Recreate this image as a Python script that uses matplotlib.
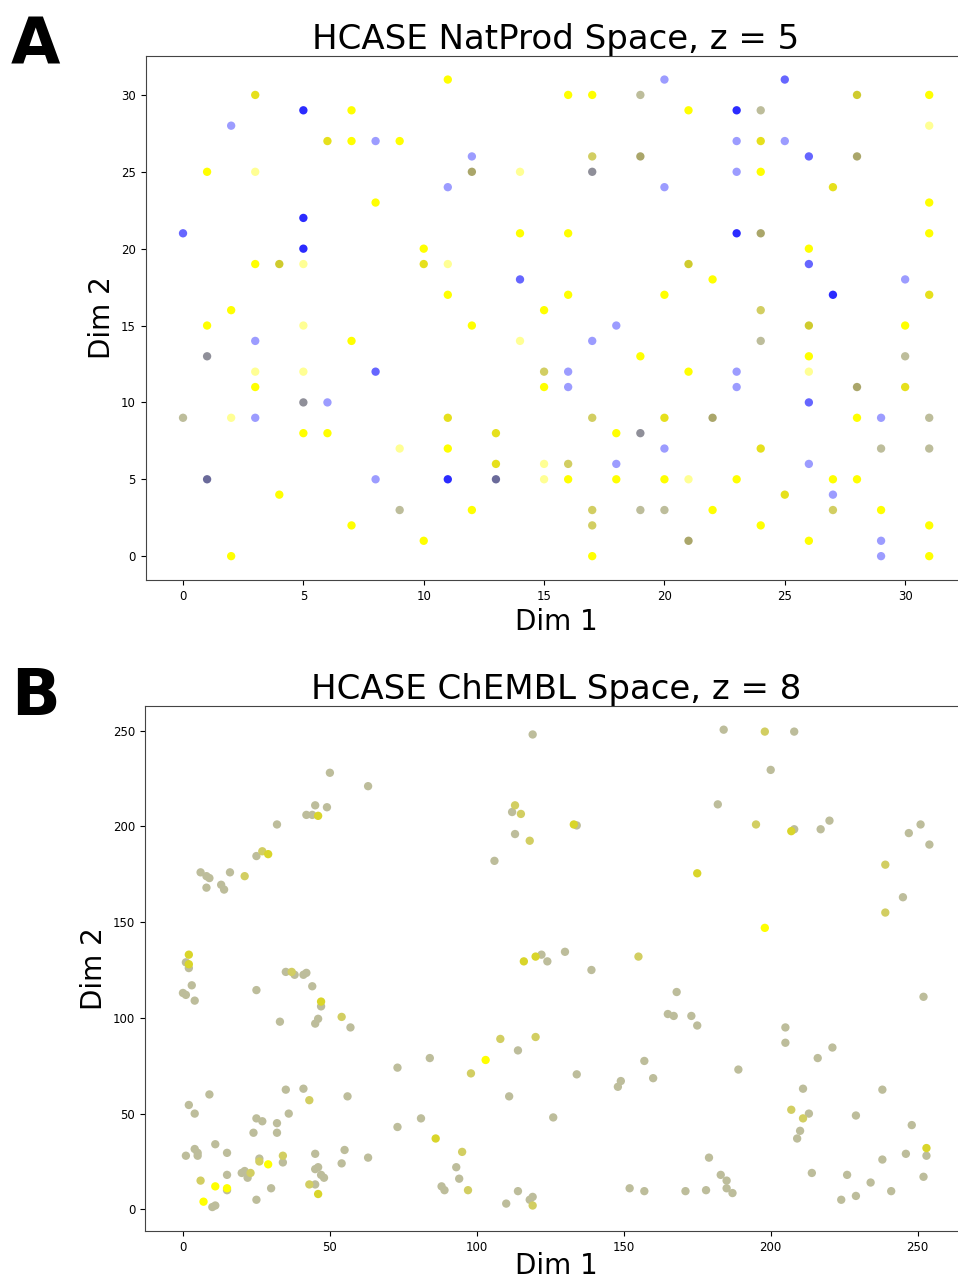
import matplotlib
matplotlib.use("Agg")
import matplotlib.pyplot as plt

# Panel A: HCASE NatProd space (x, y, colour code)
a_x = [11, 3, 5, 7, 2, 6, 7, 8, 9, 12, 1, 3, 12, 14, 11, 8, 5, 0, 14, 5, 10, 3, 4, 5, 10, 11, 14, 11, 2, 15,
       20, 25, 16, 17, 19, 28, 31, 21, 23, 24, 31, 23, 24, 25, 17, 19, 26, 28, 17, 23, 24, 20, 27, 31, 16, 23, 24, 31, 26, 21,
       26, 22, 30, 16, 20, 27, 31, 24,
       1, 5, 12, 3, 7, 14, 1, 3, 5, 8, 15, 3, 15, 5, 6, 0, 2, 3, 11, 5, 6, 13, 9, 11, 13, 15, 1, 8, 11, 13, 15, 4,
       9, 12, 7, 10, 2,
       18, 26, 30, 17, 24, 19, 26, 30, 16, 21, 23, 26, 16, 23, 28, 30, 26, 17, 20, 22, 28, 29, 31, 18, 19, 20, 24, 29,
       31, 16, 18, 26, 16, 18, 20, 21, 23, 27, 28, 25, 27, 17, 19, 20, 22, 27, 29, 17, 24, 31, 21, 26, 29, 29, 17, 31]
a_y = [31, 30, 29, 29, 28, 27, 27, 27, 27, 26, 25, 25, 25, 25, 24, 23, 22, 21, 21, 20, 20, 19, 19, 19, 19, 19, 18, 17, 16, 16,
       31, 31, 30, 30, 30, 30, 30, 29, 29, 29, 28, 27, 27, 27, 26, 26, 26, 26, 25, 25, 25, 24, 24, 23, 21, 21, 21, 21, 20, 19,
       19, 18, 18, 17, 17, 17, 17, 16,
       15, 15, 15, 14, 14, 14, 13, 12, 12, 12, 12, 11, 11, 10, 10, 9, 9, 9, 9, 8, 8, 8, 7, 7, 6, 6, 5, 5, 5, 5, 5, 4,
       3, 3, 2, 1, 0,
       15, 15, 15, 14, 14, 13, 13, 13, 12, 12, 12, 12, 11, 11, 11, 11, 10, 9, 9, 9, 9, 9, 9, 8, 8, 7, 7, 7,
       7, 6, 6, 6, 5, 5, 5, 5, 5, 5, 5, 4, 4, 3, 3, 3, 3, 3, 3, 2, 2, 2, 1, 1, 1, 0, 0, 0]
a_c = ("YDBYbDYbYbYyOybYBmYBYYKyDymYYY"
       "bmYYCKYYBCybDbEOmOGbYbDYYBOYYK"
       "mYbYYBDE"
       "YyYbYyGyymEYYGbCybDYYDyYDyNbBNyY"
       "CYYYY"
       "bKYbCYYCbYbybbODmEDOYbCYGbDC"
       "CEbbYYYyYYYDbECCYEYEYYOYbbYY")

# Panel B: HCASE ChEMBL space
b_x = [119, 50, 63, 45, 42, 44, 49, 32, 25, 6, 8, 9, 16, 13, 14, 8, 112, 113, 106, 1, 2, 3, 0, 1, 25, 35, 38, 41, 42, 44, 122, 124,
       27, 21, 113, 115, 118, 37, 46, 29, 2, 2, 116, 120,
       184, 208, 200, 182, 134, 208, 217, 220, 251, 247, 254, 245, 130, 139, 168,
       198, 195, 239, 239, 155, 133, 207, 175, 198,
       4, 47, 33, 45, 46, 57, 114, 84, 73, 111, 126, 9, 2, 4, 35, 41, 56, 25, 27, 32, 36, 24, 32, 73, 81, 93, 94, 88,
       89, 114, 110, 118, 119, 11, 4, 5, 5, 1, 15, 15, 10, 11, 15, 20, 21, 22, 26, 30, 25, 34, 45, 45, 46, 47, 48, 45,
       54, 55, 63,
       54, 108, 120, 98, 43, 95, 97, 119, 6, 23, 26, 34, 43, 47, 86, 46, 103, 11, 15, 7, 29,
       165, 167, 173, 175, 252, 205, 205, 221, 216, 157, 134, 149, 148, 160, 189, 211, 238, 213, 210, 209, 229, 248,
       253, 246, 238, 252, 179, 183, 185, 185, 187, 178, 171, 157, 152, 214, 226, 234, 241, 224, 229,
       207, 211, 253]
b_y = [248, 228, 221, 211, 206, 206, 210, 201, 184.5, 176, 174, 173, 176, 169.5, 167, 168, 207.5, 196, 182, 129, 126, 117, 113,
       112, 114.5, 124, 122.5, 122.5, 123.5, 116.5, 133, 129.5,
       187, 174, 211, 206.5, 192.5, 124, 205.5, 185.5, 133, 128, 129.5, 132,
       250.5, 249.5, 229.5, 211.5, 200.5, 198.5, 198.5, 203, 201, 196.5, 190.5, 163, 134.5, 125, 113.5,
       249.5, 201, 180, 155, 132, 201, 197.5, 175.5, 147,
       109, 106, 98, 97, 99.5, 95, 83, 79, 74, 59, 48, 60, 54.5, 50, 62.5, 63, 59, 47.5, 46, 45, 50, 40, 40, 43, 47.5,
       22, 16, 12, 10, 9.5, 3, 5, 6.5, 34, 31.5, 29.5, 28, 28, 29.5, 10, 1.2, 2, 18, 19, 20, 16.5, 26.5, 11, 5, 24.5,
       29, 21, 22, 18, 16.5, 13, 24, 31, 27,
       100.5, 89, 90, 71, 57, 30, 10, 2, 15, 19, 25, 28, 13, 108.5, 37, 8, 78, 12, 11, 4, 23.5,
       102, 101, 101, 96, 111, 95, 87, 84.5, 79, 77.5, 70.5, 67, 64, 68.5, 73, 63, 62.5, 50, 41, 37, 49, 44, 28, 29,
       26, 17, 27, 18, 15, 11, 8.5, 10, 9.5, 9.5, 11, 19, 18, 14, 9.5, 5, 7,
       52, 47.5, 32]
b_c = ("C" * 32 + "E" * 6 + "F" * 6 + "C" * 15 + "E" * 5 + "F" * 3 + "Y"
       + "C" * 59 + "E" * 13 + "F" * 3 + "Y" * 5 + "C" * 41 + "E" * 2 + "F")

palette = {
    "Y": "#ffff00", "D": "#e6e01c", "y": "#ffff94", "B": "#2b2bff", "m": "#6666ff",
    "b": "#9c9cff", "G": "#8f8f99", "N": "#6a6a9a", "C": "#bdbd9b", "O": "#aaa66a",
    "E": "#d2ce62", "K": "#cfcb2e", "F": "#d9d52a",
}

fig = plt.figure(figsize=(9.58, 12.84), dpi=100)

axA = fig.add_axes([0.1521, 0.5483, 0.8568, 0.4083])
axA.scatter(a_x, a_y, c=[palette[k] for k in a_c], s=36, edgecolors="none")
axA.set_xlim(-1.55, 32.55)
axA.set_ylim(-1.55, 32.55)
axA.set_xticks(range(0, 31, 5))
axA.set_yticks(range(0, 31, 5))
axA.set_title("HCASE NatProd Space, z = 5", fontsize=24.5, pad=5)
axA.set_xlabel("Dim 1", fontsize=20)
axA.set_ylabel("Dim 2", fontsize=20)

axB = fig.add_axes([0.1514, 0.0413, 0.858, 0.4089])
axB.scatter(b_x, b_y, c=[palette[k] for k in b_c], s=36, edgecolors="none")
axB.set_xlim(-12.9, 266.8)
axB.set_ylim(-11.3, 262.9)
axB.set_xticks(range(0, 251, 50))
axB.set_yticks(range(0, 251, 50))
axB.set_title("HCASE ChEMBL Space, z = 8", fontsize=24.5, pad=5)
axB.set_xlabel("Dim 1", fontsize=20, labelpad=-1)
axB.set_ylabel("Dim 2", fontsize=20)

for ax in (axA, axB):
    ax.tick_params(labelsize=8.5)
    for sp in ax.spines.values():
        sp.set_color("#444444")

fig.text(0.0115, 0.9494, "A", fontsize=46, fontweight="bold", va="baseline")
fig.text(0.0115, 0.4431, "B", fontsize=46, fontweight="bold", va="baseline")

fig.savefig("out.png", dpi=100)
